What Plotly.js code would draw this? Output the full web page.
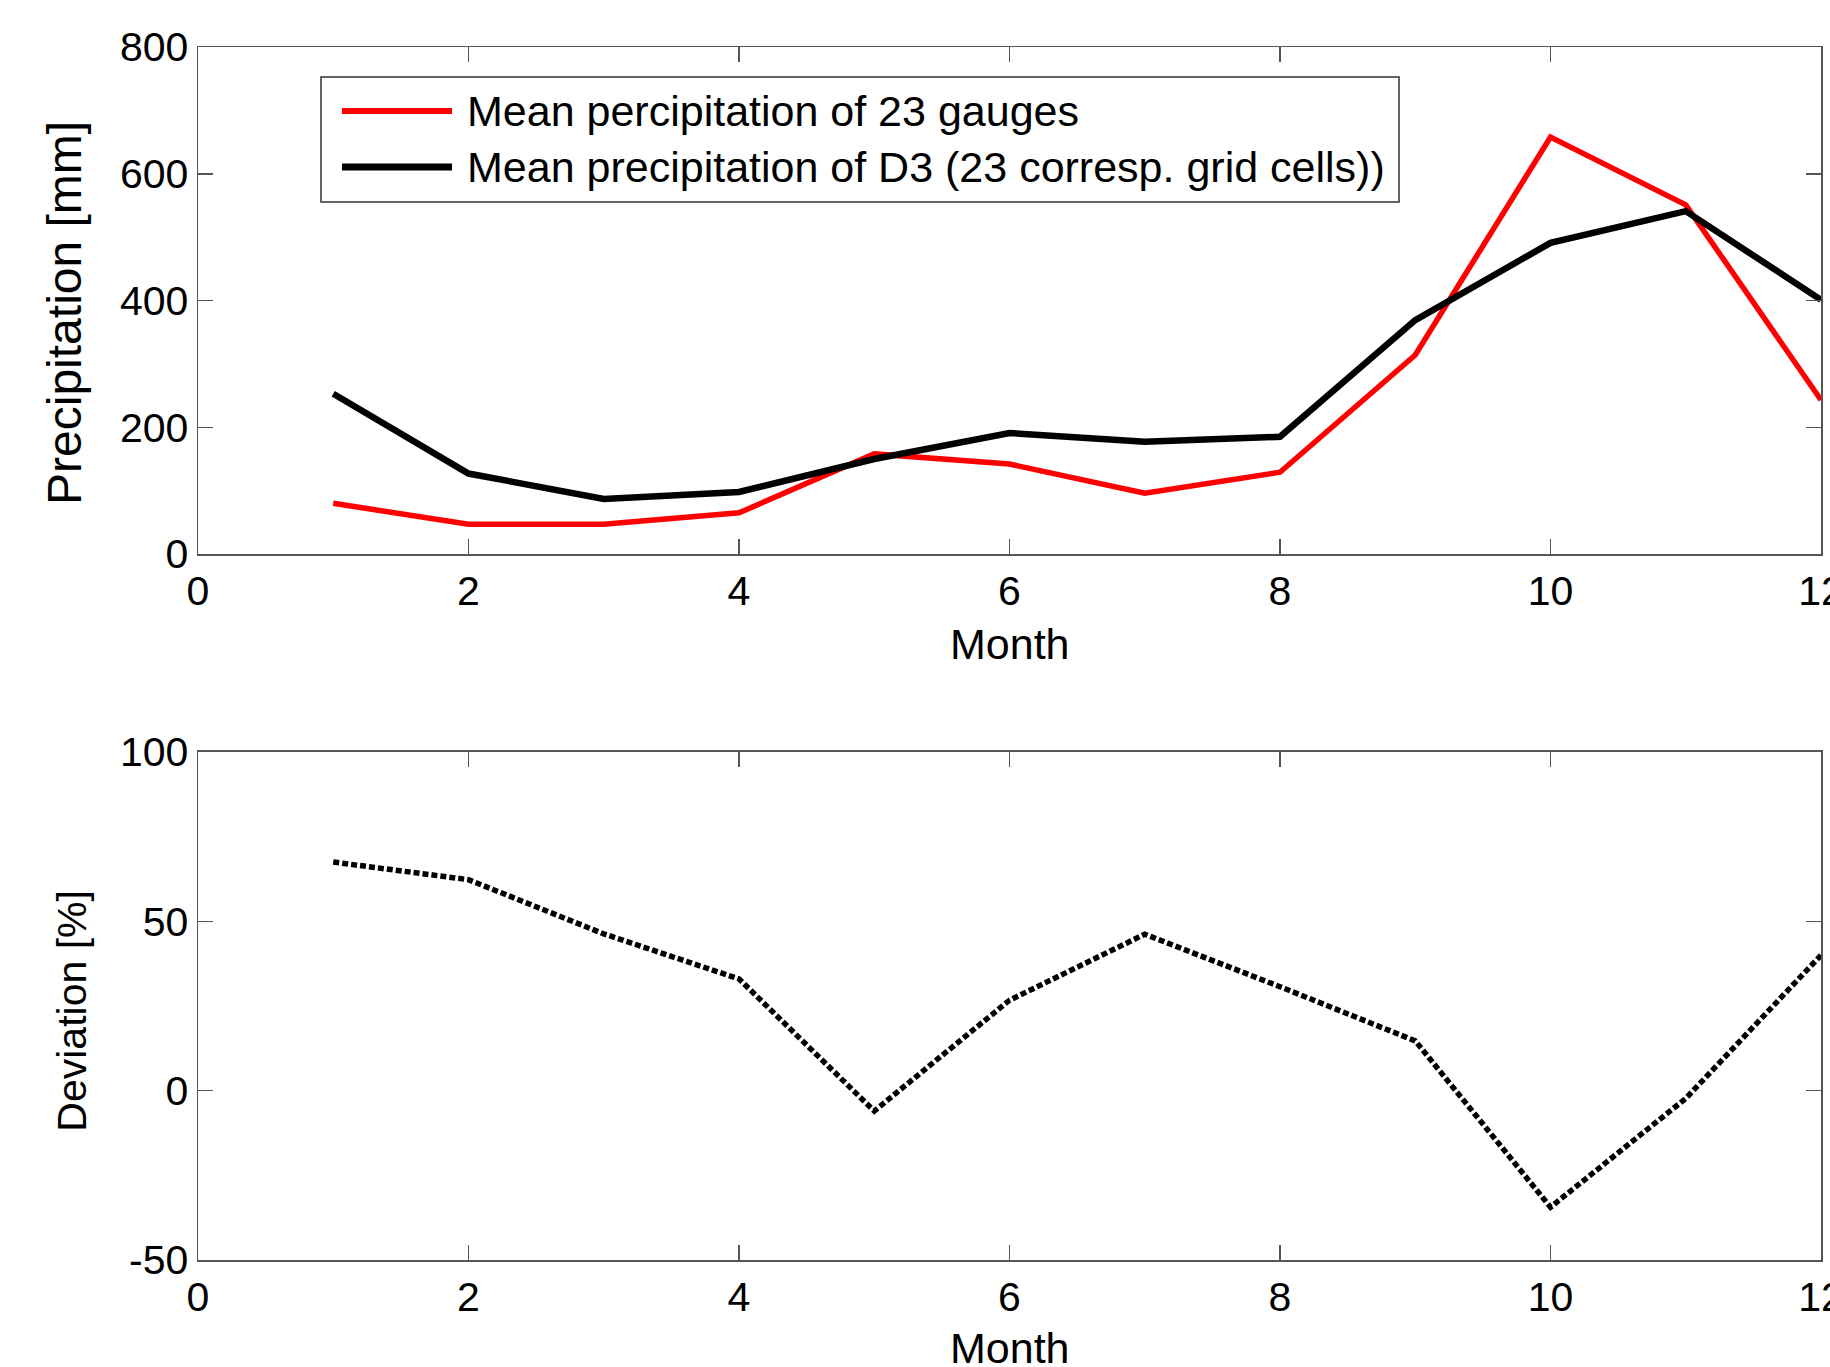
<!DOCTYPE html>
<html>
<head>
<meta charset="utf-8">
<script src="https://cdn.plot.ly/plotly-3.0.1.min.js"></script>
<style>html,body{margin:0;padding:0;background:#fff;} #chart{width:1830px;height:1367px;}</style>
</head>
<body>
<div id="chart"></div>
<script>
const months = [1, 2, 3, 4, 5, 6, 7, 8, 9, 10, 11, 12];
const gaugePrecip = [80, 47, 47, 65, 158, 142, 96, 129, 314, 658, 551, 243];
const d3Precip = [253, 127, 87, 98, 150, 191, 177, 185, 369, 491, 541, 401];
const deviation = [67.5, 62.3, 46.3, 33, -6, 26.7, 46.2, 30.7, 14.7, -34.4, -2.3, 40];
const xTicks = [0, 2, 4, 6, 8, 10, 12];
const precipTicks = [0, 200, 400, 600, 800];
const devTicks = [-50, 0, 50, 100];
const seriesNames = ["Mean percipitation of 23 gauges", "Mean precipitation of D3 (23 corresp. grid cells))"];
const seriesColors = ["#ff0000", "#000000"];
const seriesWidths = [5.5, 6.5];

const FONT = "Liberation Sans, Arial, Helvetica, sans-serif";
const axisLine = "#555555";

function xAxis(anchor) {
  return {
    anchor: anchor, range: [0, 12], tickvals: xTicks, ticktext: xTicks.map(String),
    ticks: "inside", ticklen: 15, tickwidth: 1.5, tickcolor: axisLine,
    showline: true, linecolor: axisLine, linewidth: 1.5, mirror: "allticks",
    showgrid: false, zeroline: false, automargin: false, ticklabeloverflow: "allow",
    tickfont: {family: FONT, size: 41, color: "#000"}
  };
}
function yAxis(anchor, domain, range, ticks) {
  return {
    anchor: anchor, domain: domain, range: range,
    tickvals: ticks, ticktext: ticks.map(String),
    ticks: "inside", ticklen: 15, tickwidth: 1.5, tickcolor: axisLine,
    showline: true, linecolor: axisLine, linewidth: 1.5, mirror: "allticks",
    showgrid: false, zeroline: false, automargin: false, ticklabeloverflow: "allow",
    tickfont: {family: FONT, size: 41, color: "#000"}
  };
}

const traces = [
  {x: months, y: gaugePrecip, type: "scatter", mode: "lines", name: seriesNames[0],
   line: {color: seriesColors[0], width: seriesWidths[0]}, xaxis: "x", yaxis: "y"},
  {x: months, y: d3Precip, type: "scatter", mode: "lines", name: seriesNames[1],
   line: {color: seriesColors[1], width: seriesWidths[1]}, xaxis: "x", yaxis: "y"},
  {x: months, y: deviation, type: "scatter", mode: "lines", name: "Deviation",
   line: {color: "#000000", width: 5.5, dash: "6px,3px"}, xaxis: "x2", yaxis: "y2"}
];

// Legend box drawn like the original (long line samples)
const legBox = {x0: 0.0758, x1: 0.740, y0: 0.8722, y1: 0.9753};
const legRows = [0.9472, 0.9011];
const legLine = [0.0887, 0.1565];
const legTextX = 0.1645;

const shapes = [
  {type: "rect", xref: "paper", yref: "paper", x0: legBox.x0, x1: legBox.x1, y0: legBox.y0, y1: legBox.y1,
   line: {color: "#333", width: 1.5}, fillcolor: "#fff", layer: "above"}
];
const annotations = [];
seriesNames.forEach((nm, i) => {
  shapes.push({type: "line", xref: "paper", yref: "paper", x0: legLine[0], x1: legLine[1],
    y0: legRows[i], y1: legRows[i], line: {color: seriesColors[i], width: seriesWidths[i] + 0.5}, layer: "above"});
  annotations.push({xref: "paper", yref: "paper", x: legTextX, y: legRows[i], xanchor: "left", yanchor: "middle",
    text: nm, showarrow: false, font: {family: FONT, size: 43, color: "#000"}});
});
annotations.push({xref: "paper", yref: "paper", x: -0.0826, y: 0.7807, xanchor: "center", yanchor: "middle",
  textangle: -90, text: "Precipitation [mm]", showarrow: false, font: {family: FONT, size: 48, color: "#000"}});
annotations.push({xref: "paper", yref: "paper", x: -0.0776, y: 0.2056, xanchor: "center", yanchor: "middle",
  textangle: -90, text: "Deviation [%]", showarrow: false, font: {family: FONT, size: 41, color: "#000"}});
annotations.push({xref: "paper", yref: "paper", x: 0.5, y: 0.5078, xanchor: "center", yanchor: "middle",
  text: "Month", showarrow: false, font: {family: FONT, size: 43, color: "#000"}});
annotations.push({xref: "paper", yref: "paper", x: 0.5, y: -0.0725, xanchor: "center", yanchor: "middle",
  text: "Month", showarrow: false, font: {family: FONT, size: 43, color: "#000"}});

const layout = {
  width: 1830, height: 1367,
  margin: {l: 198, r: 9, t: 47, b: 107},
  paper_bgcolor: "#fff", plot_bgcolor: "#fff",
  font: {family: FONT, color: "#000"},
  showlegend: false,
  xaxis: xAxis("y"),
  yaxis: yAxis("x", [0.582, 1], [0, 800], precipTicks),
  xaxis2: xAxis("y2"),
  yaxis2: yAxis("x2", [0, 0.4188], [-50, 100], devTicks),
  shapes: shapes,
  annotations: annotations
};

Plotly.newPlot("chart", traces, layout, {displayModeBar: false, staticPlot: true});
</script>
</body>
</html>
